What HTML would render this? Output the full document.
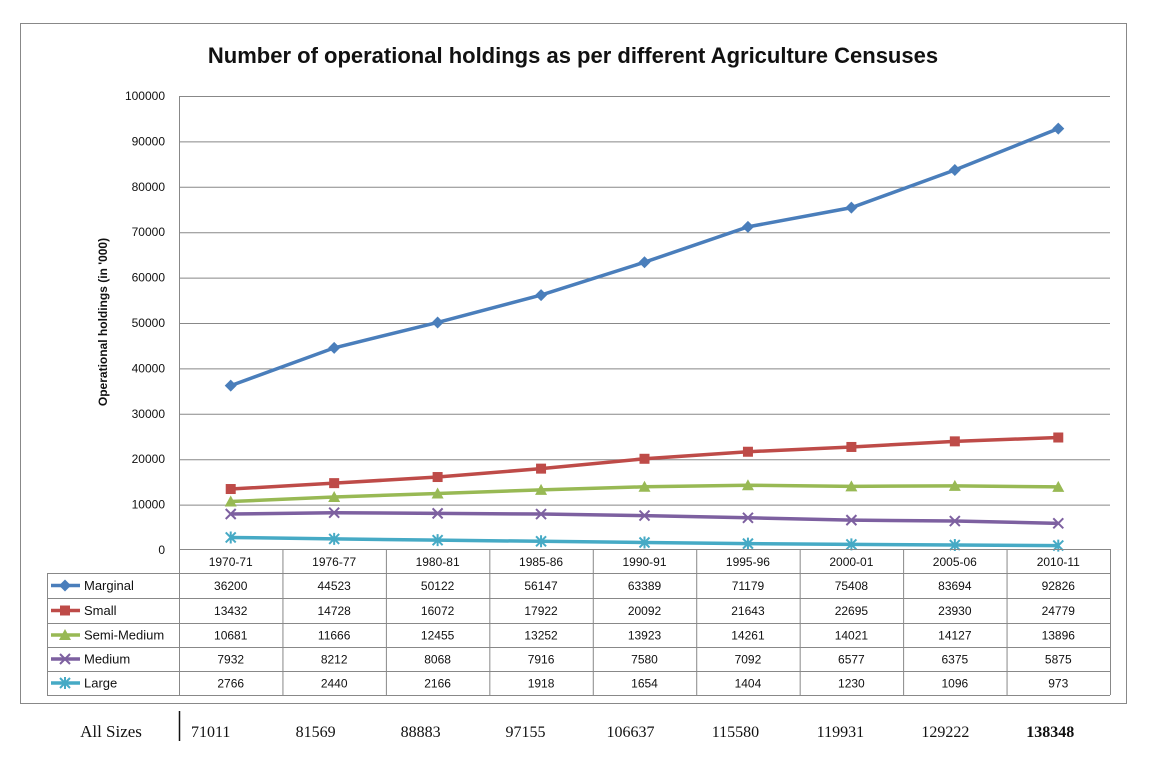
<!DOCTYPE html>
<html><head><meta charset="utf-8"><style>
body{margin:0;background:#fff;}
svg{display:block;font-family:"Liberation Sans",sans-serif;}
</style></head><body>
<svg id="c" width="1155" height="757" viewBox="0 0 1155 757">
<rect x="20.5" y="23.5" width="1106" height="680" fill="#fff" stroke="#888"/>
<text x="573" y="63" text-anchor="middle" font-size="22" font-weight="bold" fill="#111">Number of operational holdings as per different Agriculture Censuses</text>
<text transform="translate(107,322) rotate(-90)" text-anchor="middle" font-size="12" font-weight="bold" fill="#111">Operational holdings (in '000)</text>
<g id="grid"></g><g id="marks"></g><g id="table"></g>
</svg>
<script>
const categories=["1970-71","1976-77","1980-81","1985-86","1990-91","1995-96","2000-01","2005-06","2010-11"];
const seriesNames=["Marginal","Small","Semi-Medium","Medium","Large"];
const marginal=[36200,44523,50122,56147,63389,71179,75408,83694,92826];
const small=[13432,14728,16072,17922,20092,21643,22695,23930,24779];
const semiMedium=[10681,11666,12455,13252,13923,14261,14021,14127,13896];
const medium=[7932,8212,8068,7916,7580,7092,6577,6375,5875];
const large=[2766,2440,2166,1918,1654,1404,1230,1096,973];
const allSizes=[71011,81569,88883,97155,106637,115580,119931,129222,138348];
const yTicks=[0,10000,20000,30000,40000,50000,60000,70000,80000,90000,100000];
const NS="http://www.w3.org/2000/svg";
const L=179,R=1110,T=96,B=550,cw=(R-L)/categories.length;
const x=i=>L+cw*(i+0.5), y=v=>B-(v/100000)*(B-T);
function mk(tag,at,parent,txt){const e=document.createElementNS(NS,tag);for(const k in at)e.setAttribute(k,at[k]);if(txt!=null)e.textContent=txt;parent.appendChild(e);return e;}
const grid=document.getElementById('grid'),marks=document.getElementById('marks'),tbl=document.getElementById('table');
yTicks.forEach(t=>{
  if(t>0){const g=mk('line',{x1:L,x2:R,y1:y(t)+.5,y2:y(t)+.5,stroke:'#888','stroke-width':1},grid);
  
  }
  const tx=mk('text',{x:165,y:y(t)+4,'text-anchor':'end','font-size':12,fill:'#111'},grid,String(t));
  
  
});
mk('line',{x1:L+.5,x2:L+.5,y1:T,y2:B,stroke:'#888'},grid);
const colors=["#4a7ebb","#be4b48","#98b954","#7d60a0","#46aac5"];
const data=[marginal,small,semiMedium,medium,large];
function marker(k,cx,cy,parent){
  const c=colors[k];
  if(k===0)return mk('path',{d:`M${cx} ${cy-6}L${cx+6} ${cy}L${cx} ${cy+6}L${cx-6} ${cy}Z`,fill:c},parent);
  if(k===1)return mk('rect',{x:cx-5,y:cy-5,width:10,height:10,fill:c},parent);
  if(k===2)return mk('path',{d:`M${cx} ${cy-6}L${cx+6} ${cy+5}L${cx-6} ${cy+5}Z`,fill:c},parent);
  if(k===3)return mk('path',{d:`M${cx-5} ${cy-5}L${cx+5} ${cy+5}M${cx+5} ${cy-5}L${cx-5} ${cy+5}`,stroke:c,'stroke-width':2},parent);
  return mk('path',{d:`M${cx-5} ${cy-5}L${cx+5} ${cy+5}M${cx+5} ${cy-5}L${cx-5} ${cy+5}M${cx} ${cy-6}L${cx} ${cy+6}`,stroke:c,'stroke-width':2},parent);
}
data.forEach((arr,k)=>{
  const p=mk('polyline',{points:arr.map((v,i)=>x(i)+','+y(v)).join(' '),fill:'none',stroke:colors[k],'stroke-width':3.5},marks);
  
  
  arr.forEach((v,i)=>{const m=marker(k,x(i),y(v),marks);
    
    });
});
// table
const rows=[549,573,598,623,647,671,695];
mk('line',{x1:L,x2:R,y1:rows[0]+.5,y2:rows[0]+.5,stroke:'#888'},tbl);
for(let r=1;r<rows.length;r++)mk('line',{x1:47,x2:R,y1:rows[r]+.5,y2:rows[r]+.5,stroke:'#888'},tbl);
mk('line',{x1:47.5,x2:47.5,y1:rows[1],y2:rows[6],stroke:'#888'},tbl);
for(let i=0;i<=categories.length;i++)mk('line',{x1:L+cw*i+.5,x2:L+cw*i+.5,y1:rows[0],y2:rows[6],stroke:'#888'},tbl);
categories.forEach((c,i)=>{const t=mk('text',{x:x(i),y:566,'text-anchor':'middle','font-size':12,fill:'#111'},tbl,c);
  
  });
data.forEach((arr,k)=>{
  const cy=(rows[k+1]+rows[k+2])/2;
  mk('line',{x1:51,x2:80,y1:cy,y2:cy,stroke:colors[k],'stroke-width':3.5},tbl);
  marker(k,65,cy,tbl);
  const lg=mk('text',{x:84,y:cy+4.5,'font-size':13,fill:'#111'},tbl,seriesNames[k]);
  
  
  arr.forEach((v,i)=>{const t=mk('text',{x:x(i),y:cy+4.5,'text-anchor':'middle','font-size':12,fill:'#111'},tbl,String(v));
    
    });
});
const as=mk('text',{x:111,y:737,'text-anchor':'middle','font-size':17,'font-family':'Liberation Serif, serif',fill:'#111'},tbl,'All Sizes');


mk('line',{x1:179.5,x2:179.5,y1:711,y2:741,stroke:'#111','stroke-width':1.5},tbl);
allSizes.forEach((v,i)=>{const t=mk('text',{x:x(i)-20+i*1.5,y:737,'text-anchor':'middle','font-size':16,'font-family':'Liberation Serif, serif','font-weight':i===8?'bold':'normal',fill:'#111'},tbl,String(v));
  
  });
</script>
</body></html>
